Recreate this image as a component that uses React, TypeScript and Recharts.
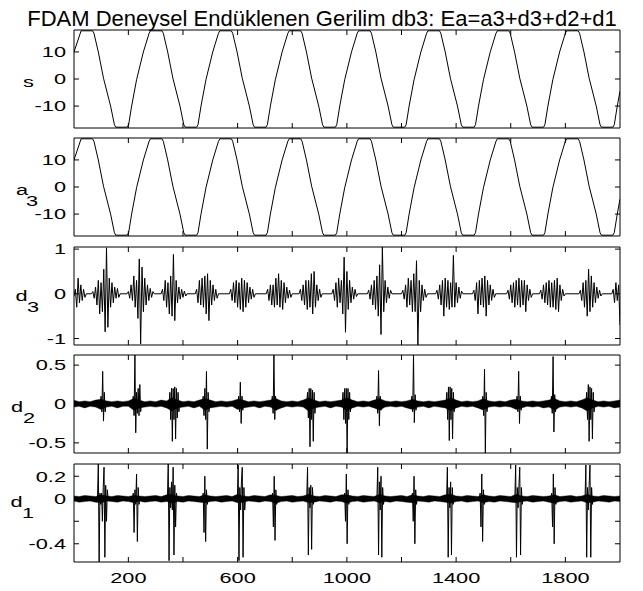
import React from "react";
import {
  ComposedChart,
  Line,
  Area,
  XAxis,
  YAxis,
  ReferenceLine,
  ReferenceArea,
} from "recharts";

const FONT = "Arial, 'Liberation Sans', Helvetica, sans-serif";
const X_MIN = 1;
const X_MAX = 2000;
const PLOT_LEFT = 74;
const PLOT_RIGHT = 620;
const PLOT_H = 98;
const PAD = 12;
const TICK_LEN = 5;
const STRETCH = 1.45;

const xTicks = [200, 400, 600, 800, 1000, 1200, 1400, 1600, 1800];
const xLabelTicks = [200, 600, 1000, 1400, 1800];

// s and a3: clipped 50 Hz wave, one shape per cycle, peak centres
const cycleCenters = [48, 302, 556, 810, 1064, 1318, 1572, 1826];
const cycleOffsets = [-21, 21, 26, 42, 61, 87, 101, 106, 148, 153, 164, 182, 207, 228];
const cycleValues = [17.8, 17.8, 16.9, 10, 0.3, -10, -16.9, -17.8, -17.8, -16.9, -10, -0.3, 10, 16.9];
const waveStart = 10;
const waveEnd = -4.5;

// d3: bursts around every zero crossing, one value every 5 samples
const d3Step = 5;
const d3Starts = [1, 70, 200, 325, 450, 575, 710, 830, 950, 1080, 1205, 1330, 1465, 1590, 1710, 1855, 1975];
const d3Bursts = [
  [-0.05, 0.1, -0.3, 0.35, -0.2, 0.2, -0.15, 0.1, -0.08],
  [0.05, -0.1, 0.15, -0.25, 0.3, -0.45, 0.25, -0.4, 0.55, -0.85, 1.03, -0.75, 0.35, -0.3, 0.25, -0.2, 0.15, -0.1, 0.12, -0.08],
  [0.05, -0.1, 0.2, -0.15, 0.4, -0.3, 0.3, -0.55, 0.78, -1.12, 0.6, -0.4, 0.35, -0.25, 0.2, -0.15, 0.12, -0.08, 0.05],
  [0.1, -0.15, 0.3, -0.3, 0.25, -0.45, 0.4, -0.5, 0.88, -0.6, 0.3, -0.2, 0.15, -0.12, 0.1, -0.08, 0.06, -0.05],
  [0.1, -0.2, 0.3, -0.25, 0.35, -0.3, 0.4, -0.45, 0.45, -0.6, 0.3, -0.25, 0.2, -0.15, 0.1, -0.1],
  [0.1, -0.15, 0.25, -0.2, 0.3, -0.3, 0.25, -0.35, 0.35, -0.4, 0.3, -0.3, 0.25, -0.2, 0.15, -0.12, 0.1, -0.08],
  [0.1, -0.15, 0.2, -0.25, 0.2, -0.3, 0.35, -0.25, 0.45, -0.3, 0.3, -0.35, 0.25, -0.2, 0.15, -0.1, 0.08, -0.08],
  [0.1, -0.15, 0.2, -0.25, 0.3, -0.35, 0.3, -0.3, 0.45, -0.45, 0.5, -0.3, 0.2, -0.15, 0.1, -0.08],
  [0.1, -0.15, 0.25, -0.3, 0.35, -0.2, 0.3, -0.45, 0.82, -0.86, 0.5, -0.35, 0.3, -0.2, 0.15, -0.12, 0.1, -0.06],
  [0.08, -0.12, 0.2, -0.25, 0.3, -0.35, 0.4, -0.5, 0.65, -0.91, 1.05, -0.4, 0.3, -0.2, 0.15, -0.1, 0.08],
  [0.08, -0.12, 0.2, -0.3, 0.35, -0.25, 0.3, -0.4, 0.45, -0.4, 0.74, -1.145, 0.3, -0.4, 0.2, -0.15, 0.1, -0.08],
  [0.08, -0.12, 0.2, -0.25, 0.3, -0.5, 0.35, -0.3, 0.3, -0.35, 0.25, -0.3, 0.86, -0.3, 0.25, -0.2, 0.15, -0.1, 0.06],
  [0.08, -0.15, 0.25, -0.45, 0.3, -0.25, 0.35, -0.3, 0.4, -0.5, 0.3, -0.25, 0.2, -0.15, 0.1, -0.08],
  [0.08, -0.12, 0.2, -0.2, 0.25, -0.3, 0.3, -0.25, 0.35, -0.3, 0.3, -0.25, 0.3, -0.4, 0.2, -0.15, 0.1, -0.08],
  [0.08, -0.12, 0.2, -0.2, 0.25, -0.25, 0.3, -0.3, 0.25, -0.3, 0.3, -0.35, 0.35, -0.4, 0.2, -0.15, 0.1, -0.05],
  [0.08, -0.15, 0.25, -0.3, 0.3, -0.5, 0.55, -0.4, 0.4, -0.3, 0.25, -0.2, 0.15, -0.1, 0.08, -0.05],
  [0.1, -0.2, 0.25, -0.15, 0.2, -0.7],
];

// d2: spikes every 3 samples, plus the noise band every 20 samples
const d2Step = 3;
const d2Starts = [100, 218, 352, 474, 604, 727, 856, 986, 1110, 1238, 1366, 1498, 1623, 1749, 1878];
const d2Bursts = [
  [0.1, -0.1, 0.42, -0.22, 0.15, -0.1],
  [0.1, -0.15, 0.63, -0.37, 0.15, -0.12, 0.2, -0.15, 0.25, -0.1],
  [0.15, -0.2, 0.2, -0.48, 0.2, -0.2, 0.22, -0.45, 0.2, -0.18, 0.15, -0.1],
  [0.1, -0.15, 0.2, -0.2, 0.42, -0.58, 0.15, -0.1],
  [0.1, -0.1, 0.28, -0.25, 0.1, -0.08],
  [0.1, -0.12, 0.63, -0.2, 0.1, -0.08],
  [0.15, -0.18, 0.2, -0.55, 0.2, -0.2, 0.18, -0.48, 0.15, -0.12],
  [0.15, -0.2, 0.2, -0.25, 0.2, -0.63, 0.2, -0.2, 0.15, -0.1],
  [0.1, -0.12, 0.43, -0.28, 0.1, -0.08],
  [0.1, -0.1, 0.63, -0.24, 0.12, -0.08],
  [0.15, -0.2, 0.22, -0.47, 0.22, -0.2, 0.2, -0.45, 0.15, -0.1],
  [0.1, -0.15, 0.45, -0.63, 0.15, -0.1],
  [0.1, -0.1, 0.42, -0.25, 0.1, -0.08],
  [0.1, -0.12, 0.61, -0.36, 0.12, -0.1],
  [0.15, -0.2, 0.25, -0.48, 0.22, -0.2, 0.2, -0.45, 0.15, -0.1],
];
const bandStep = 20;
const d2Hi = [
  0.05, 0.03, 0.04, 0.03, 0.05, 0.06, 0.04, 0.03, 0.04, 0.03,
  0.04, 0.07, 0.05, 0.03, 0.04, 0.03, 0.05, 0.04, 0.08, 0.05,
  0.03, 0.04, 0.03, 0.05, 0.07, 0.05, 0.03, 0.04, 0.03, 0.04,
  0.06, 0.05, 0.03, 0.04, 0.03, 0.04, 0.05, 0.07, 0.04, 0.03,
  0.04, 0.03, 0.05, 0.08, 0.05, 0.03, 0.04, 0.03, 0.04, 0.05,
  0.08, 0.05, 0.03, 0.04, 0.03, 0.05, 0.07, 0.04, 0.03, 0.04,
  0.03, 0.04, 0.06, 0.04, 0.03, 0.04, 0.03, 0.04, 0.05, 0.08,
  0.05, 0.03, 0.04, 0.03, 0.04, 0.07, 0.04, 0.03, 0.04, 0.03,
  0.05, 0.06, 0.04, 0.03, 0.04, 0.03, 0.04, 0.05, 0.07, 0.04,
  0.03, 0.04, 0.03, 0.05, 0.08, 0.05, 0.03, 0.04, 0.03, 0.04,
  0.05,
];
const d2Lo = [
  -0.04, -0.03, -0.05, -0.03, -0.04, -0.07, -0.04, -0.03, -0.05, -0.03,
  -0.03, -0.08, -0.05, -0.04, -0.03, -0.04, -0.03, -0.05, -0.09, -0.05,
  -0.04, -0.03, -0.05, -0.03, -0.08, -0.05, -0.04, -0.03, -0.04, -0.03,
  -0.07, -0.05, -0.04, -0.03, -0.05, -0.03, -0.04, -0.08, -0.05, -0.03,
  -0.04, -0.03, -0.04, -0.09, -0.05, -0.04, -0.03, -0.05, -0.03, -0.04,
  -0.09, -0.05, -0.03, -0.04, -0.03, -0.05, -0.08, -0.04, -0.03, -0.04,
  -0.03, -0.05, -0.07, -0.04, -0.03, -0.05, -0.03, -0.04, -0.05, -0.09,
  -0.05, -0.03, -0.04, -0.03, -0.05, -0.08, -0.04, -0.03, -0.04, -0.03,
  -0.04, -0.07, -0.05, -0.03, -0.04, -0.03, -0.05, -0.04, -0.08, -0.04,
  -0.03, -0.04, -0.03, -0.05, -0.09, -0.05, -0.03, -0.04, -0.03, -0.05,
  -0.04,
];

// d1
const d1Step = 3;
const d1Starts = [90, 218, 346, 474, 602, 728, 856, 992, 1113, 1240, 1368, 1488, 1618, 1750, 1875];
const d1Bursts = [
  [0.31, -0.56, 0.05, -0.05, 0.05, -0.2, 0.1, 0.28, -0.52, 0.12, -0.2, 0.08],
  [0.05, -0.3, 0.08, -0.05, 0.22, -0.38, 0.1, -0.05],
  [0.31, -0.55, 0.1, -0.08, 0.15, -0.1, 0.28, -0.5, 0.12, -0.25, 0.05],
  [0.05, -0.3, 0.2, -0.38, 0.08, -0.05],
  [0.3, -0.55, 0.1, -0.1, 0.15, 0.28, -0.52, 0.1, -0.1],
  [0.05, -0.25, 0.2, -0.37, 0.08, -0.05],
  [0.28, -0.5, 0.1, -0.08, 0.12, -0.45, 0.1, -0.05],
  [0.05, -0.2, 0.22, -0.4, 0.08, -0.05],
  [0.28, -0.5, 0.15, -0.1, 0.2, -0.52, 0.1, -0.05],
  [0.05, -0.2, 0.2, -0.4, 0.08, -0.05],
  [0.28, -0.52, 0.1, -0.08, 0.15, -0.5, 0.1, -0.05],
  [0.05, -0.25, 0.22, -0.38, 0.08, -0.05],
  [0.3, -0.52, 0.1, -0.08, 0.12, 0.28, -0.5, 0.1, -0.05],
  [0.05, -0.25, 0.22, -0.4, 0.1, -0.05],
  [0.3, -0.52, 0.1, -0.1, 0.12, 0.3, -0.52, 0.1, -0.05],
];
const d1Hi = [
  0.025, 0.02, 0.03, 0.025, 0.02, 0.035, 0.025, 0.02, 0.03, 0.025,
  0.02, 0.03, 0.025, 0.02, 0.025, 0.03, 0.02, 0.035, 0.04, 0.025,
  0.02, 0.03, 0.025, 0.02, 0.035, 0.025, 0.02, 0.025, 0.03, 0.02,
  0.04, 0.025, 0.02, 0.03, 0.025, 0.02, 0.035, 0.03, 0.02, 0.025,
  0.03, 0.02, 0.025, 0.04, 0.025, 0.02, 0.03, 0.025, 0.02, 0.035,
  0.035, 0.025, 0.02, 0.03, 0.025, 0.02, 0.04, 0.025, 0.02, 0.025,
  0.03, 0.02, 0.035, 0.025, 0.02, 0.03, 0.025, 0.02, 0.035, 0.04,
  0.025, 0.02, 0.03, 0.025, 0.02, 0.035, 0.025, 0.02, 0.03, 0.025,
  0.02, 0.04, 0.025, 0.02, 0.03, 0.025, 0.02, 0.025, 0.035, 0.02,
  0.025, 0.03, 0.02, 0.025, 0.04, 0.025, 0.02, 0.03, 0.025, 0.02,
  0.025,
];
const d1Lo = [
  -0.02, -0.03, -0.025, -0.02, -0.03, -0.035, -0.02, -0.025, -0.03, -0.02,
  -0.025, -0.035, -0.02, -0.03, -0.025, -0.02, -0.03, -0.025, -0.04, -0.025,
  -0.03, -0.02, -0.025, -0.03, -0.035, -0.025, -0.02, -0.03, -0.025, -0.02,
  -0.035, -0.03, -0.02, -0.025, -0.03, -0.02, -0.025, -0.04, -0.025, -0.02,
  -0.03, -0.025, -0.02, -0.035, -0.03, -0.02, -0.025, -0.03, -0.02, -0.025,
  -0.04, -0.025, -0.02, -0.03, -0.025, -0.02, -0.035, -0.025, -0.03, -0.02,
  -0.025, -0.03, -0.035, -0.02, -0.025, -0.03, -0.02, -0.025, -0.03, -0.04,
  -0.025, -0.02, -0.03, -0.025, -0.02, -0.035, -0.025, -0.03, -0.02, -0.025,
  -0.03, -0.035, -0.025, -0.02, -0.03, -0.025, -0.02, -0.03, -0.04, -0.025,
  -0.02, -0.03, -0.025, -0.02, -0.035, -0.03, -0.02, -0.025, -0.03, -0.02,
  -0.025,
];

const panelTops = [30, 137.5, 246.5, 355, 464];
const panelDomains: [number, number][] = [
  [-18.1, 18.1],
  [-18.1, 18.1],
  [-1.145, 1.047],
  [-0.63, 0.63],
  [-0.562, 0.309],
];
const panelYTicks = [[-10, 0, 10], [-10, 0, 10], [-1, 0, 1], [-0.5, 0, 0.5], [-0.4, -0.2, 0, 0.2]];
const labelMain = ["s", "a", "d", "d", "d"];
const labelSub = ["", "3", "3", "2", "1"];
const labelX = [23, 16, 15.5, 11, 10.5];
const subX = [0, 26, 27, 23, 22];

function buildWave() {
  const pts: { x: number; v: number }[] = [{ x: X_MIN, v: waveStart }];
  cycleCenters.forEach((c) =>
    cycleOffsets.forEach((o, i) => {
      const x = c + o;
      if (x > X_MIN && x < X_MAX) pts.push({ x, v: cycleValues[i] });
    })
  );
  pts.push({ x: X_MAX, v: waveEnd });
  return pts;
}

function burstRows(starts: number[], bursts: number[][], step: number) {
  const rows: { x: number; d: number }[] = [];
  starts.forEach((s, i) => {
    const vals = bursts[i];
    if (s - step >= X_MIN) rows.push({ x: s - step, d: 0 });
    vals.forEach((v, k) => rows.push({ x: s + k * step, d: v }));
    const end = s + vals.length * step;
    if (end <= X_MAX) rows.push({ x: end, d: 0 });
  });
  return rows;
}

function withBand(rows: { x: number; d: number }[], hi: number[], lo: number[]) {
  const m = new Map<number, any>();
  hi.forEach((h, i) => m.set(i * bandStep, { x: i * bandStep, band: [lo[i], h] }));
  rows.forEach((r) => m.set(r.x, { ...(m.get(r.x) || {}), ...r }));
  return [...m.values()].sort((a, b) => a.x - b.x);
}

const waveData = buildWave();
const d3Data = burstRows(d3Starts, d3Bursts, d3Step);
const d2Data = withBand(burstRows(d2Starts, d2Bursts, d2Step), d2Hi, d2Lo);
const d1Data = withBand(burstRows(d1Starts, d1Bursts, d1Step), d1Hi, d1Lo);

function YTickLabel(props: any) {
  const { y, payload, hidden } = props;
  if (hidden && hidden.includes(payload.value)) return <g />;
  return (
    <text
      transform={`translate(66, ${y + 5.3}) scale(${STRETCH}, 1)`}
      textAnchor="end"
      fontSize={15}
      fontFamily={FONT}
      fill="#000"
    >
      {String(payload.value)}
    </text>
  );
}

function XTickLabel(props: any) {
  const { x, payload } = props;
  if (!xLabelTicks.includes(payload.value)) return <g />;
  return (
    <text
      transform={`translate(${x}, ${PAD + PLOT_H + 21}) scale(${STRETCH}, 1)`}
      textAnchor="middle"
      fontSize={15}
      fontFamily={FONT}
      fill="#000"
    >
      {String(payload.value)}
    </text>
  );
}

function Panel({ index, data, showX = false, children }: any) {
  const [lo, hi] = panelDomains[index];
  const yTicks = panelYTicks[index];
  const xLen = (TICK_LEN / (PLOT_RIGHT - PLOT_LEFT)) * (X_MAX - X_MIN);
  const yLen = (TICK_LEN / PLOT_H) * (hi - lo);
  const marks: React.ReactNode[] = [];
  xTicks.forEach((t) => {
    marks.push(
      <ReferenceLine key={`xb${t}`} segment={[{ x: t, y: lo }, { x: t, y: lo + yLen }]} stroke="#000" ifOverflow="visible" />
    );
    marks.push(
      <ReferenceLine key={`xt${t}`} segment={[{ x: t, y: hi }, { x: t, y: hi - yLen }]} stroke="#000" ifOverflow="visible" />
    );
  });
  yTicks.forEach((t) => {
    marks.push(
      <ReferenceLine key={`yl${t}`} segment={[{ x: X_MIN, y: t }, { x: X_MIN + xLen, y: t }]} stroke="#000" ifOverflow="visible" />
    );
    marks.push(
      <ReferenceLine key={`yr${t}`} segment={[{ x: X_MAX, y: t }, { x: X_MAX - xLen, y: t }]} stroke="#000" ifOverflow="visible" />
    );
  });
  const height = PAD + PLOT_H + (showX ? 30 : PAD);
  return (
    <div style={{ position: "absolute", left: 0, top: panelTops[index] - PAD }}>
      <ComposedChart
        width={643}
        height={height}
        data={data}
        margin={{ top: PAD, right: 643 - PLOT_RIGHT, bottom: showX ? 0 : PAD, left: 0 }}
      >
        <XAxis
          type="number"
          dataKey="x"
          domain={[X_MIN, X_MAX]}
          ticks={xTicks}
          interval={0}
          allowDataOverflow
          hide={!showX}
          height={30}
          axisLine={false}
          tickLine={false}
          tick={<XTickLabel />}
        />
        <YAxis
          type="number"
          domain={[lo, hi]}
          ticks={yTicks}
          interval={0}
          allowDataOverflow
          width={PLOT_LEFT}
          axisLine={false}
          tickLine={false}
          tick={<YTickLabel hidden={index === 4 ? [-0.2] : []} />}
        />
        {children}
        {marks}
        <ReferenceArea x1={X_MIN} x2={X_MAX} y1={lo} y2={hi} fill="none" stroke="#000" ifOverflow="visible" />
      </ComposedChart>
    </div>
  );
}

export default function App() {
  const zeroY = panelDomains.map(([lo, hi], i) => panelTops[i] + (PLOT_H * hi) / (hi - lo));
  return (
    <div style={{ position: "absolute", left: 0, top: 0, width: 643, height: 591, background: "#fff", overflow: "hidden" }}>
      <Panel index={0} data={waveData}>
        <Line type="linear" dataKey="v" stroke="#000" strokeWidth={1} dot={false} activeDot={false} isAnimationActive={false} />
      </Panel>
      <Panel index={1} data={waveData}>
        <Line type="linear" dataKey="v" stroke="#000" strokeWidth={1} dot={false} activeDot={false} isAnimationActive={false} />
      </Panel>
      <Panel index={2} data={d3Data}>
        <Line type="linear" dataKey="d" stroke="#000" strokeWidth={1} dot={false} activeDot={false} isAnimationActive={false} />
      </Panel>
      <Panel index={3} data={d2Data}>
        <Area type="linear" dataKey="band" stroke="#000" strokeWidth={0.4} fill="#000" fillOpacity={1} connectNulls dot={false} activeDot={false} isAnimationActive={false} />
        <Line type="linear" dataKey="d" stroke="#000" strokeWidth={1} connectNulls dot={false} activeDot={false} isAnimationActive={false} />
      </Panel>
      <Panel index={4} data={d1Data} showX>
        <Area type="linear" dataKey="band" stroke="#000" strokeWidth={0.4} fill="#000" fillOpacity={1} connectNulls dot={false} activeDot={false} isAnimationActive={false} />
        <Line type="linear" dataKey="d" stroke="#000" strokeWidth={1} connectNulls dot={false} activeDot={false} isAnimationActive={false} />
      </Panel>
      <svg width={643} height={591} style={{ position: "absolute", left: 0, top: 0, pointerEvents: "none" }}>
        <text x={322} y={26} textAnchor="middle" fontSize={22} fontFamily={FONT} fill="#000">
          FDAM Deneysel Endüklenen Gerilim db3: Ea=a3+d3+d2+d1
        </text>
        {labelMain.map((m, i) => (
          <g key={i} fontSize={15} fontFamily={FONT} fill="#000">
            <text transform={`translate(${labelX[i]}, ${zeroY[i] + 8}) scale(${STRETCH}, 1)`}>{m}</text>
            {labelSub[i] && (
              <text transform={`translate(${subX[i]}, ${zeroY[i] + 19}) scale(${STRETCH}, 1)`}>{labelSub[i]}</text>
            )}
          </g>
        ))}
      </svg>
    </div>
  );
}
